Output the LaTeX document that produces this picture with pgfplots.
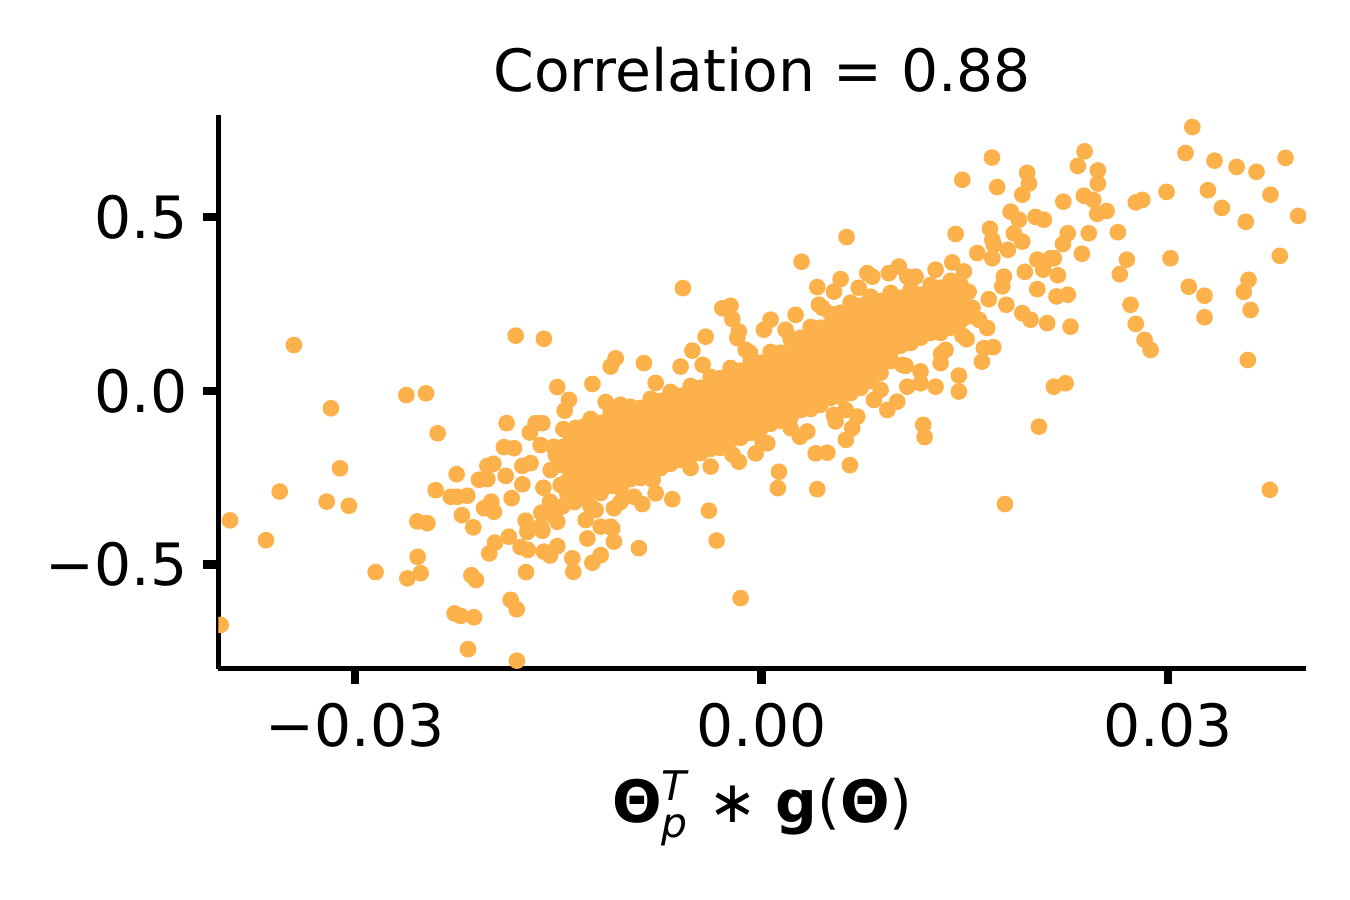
\documentclass[border=0pt]{standalone}
\usepackage{fontspec}
\setmainfont{DejaVu Sans}
\usepackage{amsmath}
\usepackage{pgfplots}
\pgfplotsset{compat=1.18}
\definecolor{orng}{RGB}{253,177,75}

\pgfplotstableread{
x y
-0.03452 0.132
-0.01815 0.159
-0.01607 0.150
-0.01508 0.011
-0.02622 -0.012
-0.02477 -0.007
-0.03179 -0.050
-0.02391 -0.122
-0.01882 -0.093
-0.01668 -0.093
-0.01710 -0.120
-0.01902 -0.162
-0.01828 -0.165
-0.03112 -0.223
-0.02251 -0.240
-0.02024 -0.216
-0.01980 -0.210
-0.02086 -0.256
-0.02024 -0.254
-0.01889 -0.245
-0.01766 -0.269
-0.01611 -0.279
-0.03557 -0.290
-0.02406 -0.286
-0.02295 -0.305
-0.02246 -0.305
-0.02172 -0.302
-0.03210 -0.319
-0.03046 -0.331
-0.01995 -0.319
-0.02049 -0.338
-0.01976 -0.348
-0.01845 -0.309
-0.01562 -0.319
-0.01626 -0.351
-0.03924 -0.373
-0.02212 -0.358
-0.02541 -0.376
-0.02467 -0.381
-0.02128 -0.393
-0.01742 -0.374
-0.01729 -0.406
-0.01618 -0.403
-0.03658 -0.430
-0.01968 -0.437
-0.02010 -0.468
-0.01865 -0.420
-0.01779 -0.450
-0.01725 -0.458
-0.01607 -0.463
-0.01562 -0.474
-0.02539 -0.478
-0.02849 -0.522
-0.02615 -0.540
-0.02517 -0.525
-0.02142 -0.531
-0.02108 -0.545
-0.01739 -0.522
-0.01852 -0.602
-0.01808 -0.629
-0.02266 -0.641
-0.02221 -0.648
-0.02123 -0.652
-0.03993 -0.674
-0.02167 -0.744
-0.01806 -0.777
-0.01766 -0.216
-0.01705 -0.208
-0.01631 -0.391
-0.01508 -0.377
-0.01508 -0.447
-0.01299 -0.372
-0.01262 -0.333
-0.01188 -0.391
-0.01114 -0.391
-0.01631 -0.156
-0.01520 -0.184
-0.01557 -0.228
-0.01483 -0.271
-0.01535 -0.161
-0.01432 -0.190
-0.00389 -0.345
-0.00332 -0.431
-0.00155 -0.597
-0.00659 -0.312
-0.00782 -0.295
-0.00880 -0.326
-0.00906 -0.453
-0.01090 -0.434
-0.01102 -0.396
-0.01286 -0.425
-0.01188 -0.473
-0.01249 -0.495
-0.01397 -0.482
-0.01390 -0.521
-0.01533 -0.362
-0.01434 -0.295
-0.01471 -0.333
-0.01225 -0.343
-0.01090 -0.338
-0.01041 -0.320
-0.00942 -0.305
-0.00581 0.296
-0.00290 0.238
-0.00229 0.245
-0.00216 0.207
-0.00168 0.171
-0.00179 0.152
-0.00413 0.156
-0.00511 0.116
-0.01077 0.094
-0.01114 0.070
-0.00869 0.080
-0.00598 0.070
-0.00086 0.110
0.00066 0.205
0.00017 0.176
0.00251 0.219
0.00411 0.299
0.00423 0.248
-0.01249 0.020
-0.01422 -0.026
-0.01454 -0.057
-0.01041 -0.040
-0.01618 -0.093
-0.01463 -0.110
-0.01311 -0.103
-0.00168 -0.204
0.00128 -0.233
0.00120 -0.280
0.00283 -0.132
0.00337 -0.117
0.00399 -0.180
0.00485 -0.178
0.00411 -0.283
0.00534 -0.069
-0.00376 -0.218
-0.00044 -0.180
0.00042 -0.151
0.00295 0.372
0.00627 0.443
0.00583 0.322
0.00534 0.286
0.00780 0.339
0.00817 0.329
0.00939 0.339
0.01013 0.358
0.01075 0.329
0.01284 0.349
0.01407 0.370
0.01493 0.344
0.01592 0.397
0.01703 0.382
0.01714 0.421
0.01788 0.329
0.01677 0.264
0.01604 0.205
0.01666 0.181
0.00546 -0.088
0.01173 0.056
0.01284 0.012
0.01739 0.587
0.01924 0.565
0.01973 0.597
0.01481 0.608
0.02227 0.545
0.01432 0.452
0.01685 0.467
0.01703 0.435
0.01838 0.516
0.01899 0.493
0.02022 0.501
0.02083 0.493
0.01862 0.454
0.01924 0.430
0.01818 0.406
0.02035 0.378
0.02157 0.382
0.02079 0.349
0.01943 0.343
0.02187 0.333
0.01776 0.301
0.02035 0.293
0.02177 0.272
0.02260 0.277
0.01806 0.248
0.01924 0.224
0.01985 0.205
0.02108 0.195
0.02280 0.185
0.01513 0.149
0.01641 0.123
0.01710 0.126
0.01626 0.084
0.01326 0.107
0.01321 0.080
0.01456 0.044
0.01456 -0.002
0.01038 0.075
0.02157 0.012
0.02244 0.022
0.02047 -0.103
0.01193 -0.098
0.01203 -0.133
0.00928 -0.055
0.00652 -0.214
0.00622 -0.141
0.01796 -0.326
0.01001 -0.031
0.01173 0.022
0.01075 0.012
0.00829 -0.026
0.00706 -0.074
0.00669 -0.107
0.01518 0.214
0.01700 0.672
0.01960 0.628
0.03179 0.760
0.03129 0.685
0.03343 0.663
0.03506 0.645
0.03653 0.631
0.03867 0.671
0.04027 0.659
0.02384 0.690
0.02334 0.648
0.02482 0.635
0.02482 0.597
0.03294 0.578
0.03397 0.527
0.03756 0.565
0.03961 0.504
0.03574 0.487
0.02989 0.573
0.02762 0.543
0.02810 0.550
0.02379 0.562
0.02448 0.550
0.02477 0.510
0.02546 0.518
0.02260 0.454
0.02224 0.423
0.02415 0.454
0.02630 0.457
0.02364 0.395
0.02696 0.378
0.02644 0.336
0.03018 0.382
0.03825 0.389
0.02133 0.382
0.03153 0.300
0.03269 0.274
0.03594 0.320
0.03559 0.285
0.03609 0.233
0.03269 0.212
0.02723 0.248
0.02762 0.193
0.02827 0.147
0.02871 0.118
0.03589 0.089
0.03751 -0.285
-0.01461 -0.161
-0.01483 -0.213
-0.01439 -0.262
-0.01380 -0.320
-0.01373 -0.107
-0.00804 -0.256
-0.00524 -0.222
-0.00214 -0.184
0.00007 -0.147
0.00214 -0.107
0.00620 -0.055
0.00878 0.003
0.01063 0.072
0.01358 0.118
-0.01151 -0.032
-0.00782 0.023
-0.00435 0.075
-0.00118 0.118
0.00177 0.176
0.00450 0.239
0.00716 0.297
0.01137 0.329
0.01528 0.285
0.01557 0.239
0.01483 0.159
}\scatterpts

\pgfplotstableread{
x y
-0.01410 -0.133
-0.01410 -0.167
-0.01410 -0.202
-0.01410 -0.236
-0.01410 -0.271
-0.01410 -0.294
-0.01336 -0.107
-0.01336 -0.141
-0.01336 -0.176
-0.01336 -0.210
-0.01336 -0.245
-0.01336 -0.280
-0.01336 -0.308
-0.01262 -0.081
-0.01262 -0.115
-0.01262 -0.150
-0.01262 -0.184
-0.01262 -0.219
-0.01262 -0.254
-0.01262 -0.288
-0.01188 -0.092
-0.01188 -0.127
-0.01188 -0.161
-0.01188 -0.196
-0.01188 -0.231
-0.01188 -0.265
-0.01188 -0.294
-0.01114 -0.066
-0.01114 -0.101
-0.01114 -0.135
-0.01114 -0.170
-0.01114 -0.205
-0.01114 -0.239
-0.01114 -0.274
-0.01041 -0.078
-0.01041 -0.112
-0.01041 -0.147
-0.01041 -0.182
-0.01041 -0.216
-0.01041 -0.251
-0.01041 -0.280
-0.00967 -0.046
-0.00967 -0.081
-0.00967 -0.115
-0.00967 -0.150
-0.00967 -0.184
-0.00967 -0.219
-0.00967 -0.254
-0.00893 -0.049
-0.00893 -0.084
-0.00893 -0.118
-0.00893 -0.153
-0.00893 -0.187
-0.00893 -0.222
-0.00893 -0.251
-0.00819 -0.023
-0.00819 -0.058
-0.00819 -0.092
-0.00819 -0.127
-0.00819 -0.161
-0.00819 -0.196
-0.00819 -0.231
-0.00745 -0.029
-0.00745 -0.063
-0.00745 -0.098
-0.00745 -0.133
-0.00745 -0.167
-0.00745 -0.202
-0.00745 -0.222
-0.00672 -0.003
-0.00672 -0.037
-0.00672 -0.072
-0.00672 -0.107
-0.00672 -0.141
-0.00672 -0.176
-0.00672 -0.210
-0.00598 -0.014
-0.00598 -0.049
-0.00598 -0.084
-0.00598 -0.118
-0.00598 -0.153
-0.00598 -0.187
-0.00598 -0.199
-0.00524 0.014
-0.00524 -0.020
-0.00524 -0.055
-0.00524 -0.089
-0.00524 -0.124
-0.00524 -0.159
-0.00524 -0.187
-0.00450 0.009
-0.00450 -0.026
-0.00450 -0.061
-0.00450 -0.095
-0.00450 -0.130
-0.00450 -0.164
-0.00450 -0.179
-0.00376 0.040
-0.00376 0.006
-0.00376 -0.029
-0.00376 -0.063
-0.00376 -0.098
-0.00376 -0.133
-0.00376 -0.167
-0.00303 0.037
-0.00303 0.003
-0.00303 -0.032
-0.00303 -0.066
-0.00303 -0.101
-0.00303 -0.135
-0.00303 -0.164
-0.00229 0.066
-0.00229 0.032
-0.00229 -0.003
-0.00229 -0.037
-0.00229 -0.072
-0.00229 -0.107
-0.00229 -0.141
-0.00155 0.058
-0.00155 0.023
-0.00155 -0.012
-0.00155 -0.046
-0.00155 -0.081
-0.00155 -0.115
-0.00155 -0.135
-0.00081 0.086
-0.00081 0.052
-0.00081 0.017
-0.00081 -0.017
-0.00081 -0.052
-0.00081 -0.086
-0.00081 -0.121
-0.00007 0.081
-0.00007 0.046
-0.00007 0.012
-0.00007 -0.023
-0.00007 -0.058
-0.00007 -0.092
-0.00007 -0.107
0.00066 0.112
0.00066 0.078
0.00066 0.043
0.00066 0.009
0.00066 -0.026
0.00066 -0.061
0.00066 -0.095
0.00140 0.110
0.00140 0.075
0.00140 0.040
0.00140 0.006
0.00140 -0.029
0.00140 -0.063
0.00140 -0.086
0.00214 0.150
0.00214 0.115
0.00214 0.081
0.00214 0.046
0.00214 0.012
0.00214 -0.023
0.00214 -0.058
0.00214 -0.075
0.00288 0.153
0.00288 0.118
0.00288 0.084
0.00288 0.049
0.00288 0.014
0.00288 -0.020
0.00288 -0.055
0.00362 0.184
0.00362 0.150
0.00362 0.115
0.00362 0.081
0.00362 0.046
0.00362 0.012
0.00362 -0.023
0.00362 -0.052
0.00435 0.182
0.00435 0.147
0.00435 0.112
0.00435 0.078
0.00435 0.043
0.00435 0.009
0.00435 -0.026
0.00435 -0.040
0.00509 0.222
0.00509 0.187
0.00509 0.153
0.00509 0.118
0.00509 0.084
0.00509 0.049
0.00509 0.014
0.00509 -0.020
0.00583 0.225
0.00583 0.190
0.00583 0.156
0.00583 0.121
0.00583 0.086
0.00583 0.052
0.00583 0.017
0.00583 -0.017
0.00657 0.254
0.00657 0.219
0.00657 0.184
0.00657 0.150
0.00657 0.115
0.00657 0.081
0.00657 0.046
0.00657 0.012
0.00657 -0.006
0.00731 0.245
0.00731 0.210
0.00731 0.176
0.00731 0.141
0.00731 0.107
0.00731 0.072
0.00731 0.037
0.00731 0.009
0.00804 0.271
0.00804 0.236
0.00804 0.202
0.00804 0.167
0.00804 0.133
0.00804 0.098
0.00804 0.063
0.00804 0.029
0.00878 0.259
0.00878 0.225
0.00878 0.190
0.00878 0.156
0.00878 0.121
0.00878 0.086
0.00878 0.052
0.00952 0.282
0.00952 0.248
0.00952 0.213
0.00952 0.179
0.00952 0.144
0.00952 0.110
0.00952 0.086
0.01026 0.268
0.01026 0.233
0.01026 0.199
0.01026 0.164
0.01026 0.130
0.01100 0.291
0.01100 0.256
0.01100 0.222
0.01100 0.187
0.01100 0.153
0.01100 0.138
0.01173 0.277
0.01173 0.242
0.01173 0.208
0.01173 0.173
0.01173 0.153
0.01247 0.305
0.01247 0.271
0.01247 0.236
0.01247 0.202
0.01247 0.167
0.01321 0.297
0.01321 0.262
0.01321 0.228
0.01321 0.193
0.01321 0.167
0.01395 0.317
0.01395 0.282
0.01395 0.248
0.01395 0.213
0.01395 0.182
0.01469 0.305
0.01469 0.271
0.01469 0.236
0.01469 0.202
}\corepts

\begin{document}
\fontsize{14pt}{17pt}\selectfont
\begin{tikzpicture}
\path[use as bounding box] (0,0) rectangle (324pt,216pt);
\begin{axis}[
  at={(52.4pt,55.44pt)}, anchor=south west,
  scale only axis, width=261.1pt, height=133pt,
  xmin=-0.0401, xmax=0.0402, ymin=-0.801, ymax=0.795,
  scaled x ticks=false, scaled y ticks=false,
  axis x line*=bottom, axis y line*=left,
  axis line style={-, line width=1.2pt, black},
  xtick={-0.03,0,0.03}, xticklabels={−0.03,0.00,0.03},
  ytick={-0.5,0,0.5}, yticklabels={−0.5,0.0,0.5},
  tick align=outside, major tick length=3.6pt,
  major tick style={black, line width=2pt},
  minor tick num=0,
  tick label style={font=\fontsize{14pt}{17pt}\selectfont, inner sep=0pt},
  xticklabel style={anchor=base, yshift=-15.1pt},
  yticklabel style={anchor=east, xshift=-3.6pt},
  title={Correlation = 0.88},
  title style={at={(axis description cs:0.5,1)}, anchor=base, yshift=-0.4pt, inner sep=0pt, font=\fontsize{14pt}{17pt}\selectfont},
  xlabel={\textbf{Θ}$_{\text{\itshape p}}^{\text{\itshape T}}$ ∗ \textbf{g}(\textbf{Θ})},
  xlabel style={at={(axis description cs:0.5,0)}, anchor=base, yshift=-36.9pt, inner sep=0pt, font=\fontsize{14pt}{17pt}\selectfont},
  clip marker paths=true,
]
\addplot[orng, only marks, mark=*, mark size=1.8pt, mark options={fill=orng, draw=orng, line width=0.4pt}] table[x=x, y=y] {\corepts};
\addplot[orng, only marks, mark=*, mark size=1.8pt, mark options={fill=orng, draw=orng, line width=0.4pt}] table[x=x, y=y] {\scatterpts};
\end{axis}
\end{tikzpicture}
\end{document}
